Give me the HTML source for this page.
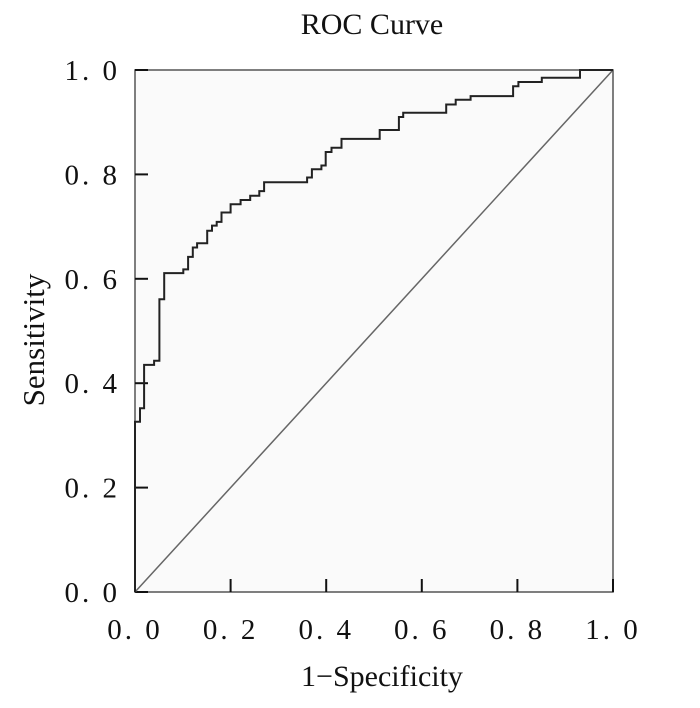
<!DOCTYPE html>
<html><head><meta charset="utf-8"><style>
body{margin:0;background:#fff;}
svg text{font-family:"Liberation Serif","Noto Serif CJK SC",serif;fill:#111;}
</style></head><body>
<svg width="700" height="703" id="chart">
<text x="372" y="34" font-size="30" text-anchor="middle">ROC Curve</text>
<rect x="135" y="70" width="478" height="522" fill="#fafafa" stroke="#555" stroke-width="1.5"/>
<g id="axes"></g>
<text x="382" y="686" font-size="30" text-anchor="middle">1−Specificity</text>
<text transform="translate(44,340) rotate(-90)" font-size="31" text-anchor="middle">Sensitivity</text>
</svg>
<script>
const fprValues=[0,0,0.0105,0.0105,0.019,0.019,0.040,0.040,0.051,0.051,0.061,0.061,0.101,0.101,0.111,0.111,0.121,0.121,0.130,0.130,0.151,0.151,0.161,0.161,0.171,0.171,0.181,0.181,0.200,0.200,0.221,0.221,0.241,0.241,0.260,0.260,0.270,0.270,0.360,0.360,0.370,0.370,0.390,0.390,0.399,0.399,0.411,0.411,0.432,0.432,0.512,0.512,0.552,0.552,0.561,0.561,0.651,0.651,0.671,0.671,0.702,0.702,0.791,0.791,0.802,0.802,0.851,0.851,0.931,0.931,1.0];
const tprValues=[0,0.326,0.326,0.352,0.352,0.435,0.435,0.443,0.443,0.561,0.561,0.611,0.611,0.618,0.618,0.642,0.642,0.660,0.660,0.668,0.668,0.692,0.692,0.702,0.702,0.709,0.709,0.727,0.727,0.743,0.743,0.751,0.751,0.759,0.759,0.768,0.768,0.785,0.785,0.794,0.794,0.810,0.810,0.817,0.817,0.843,0.843,0.851,0.851,0.868,0.868,0.885,0.885,0.910,0.910,0.918,0.918,0.934,0.934,0.943,0.943,0.950,0.950,0.969,0.969,0.977,0.977,0.985,0.985,1.0,1.0];
const xTicks=[0,0.2,0.4,0.6,0.8,1.0];
const yTicks=[0,0.2,0.4,0.6,0.8,1.0];
const xTickLabels=["0. 0","0. 2","0. 4","0. 6","0. 8","1. 0"];
const yTickLabels=["0. 0","0. 2","0. 4","0. 6","0. 8","1. 0"];
const X0=135,X1=613,Y0=592,Y1=70;
const sx=v=>X0+v*(X1-X0), sy=v=>Y0-v*(Y0-Y1);
const NS="http://www.w3.org/2000/svg";
const g=document.getElementById('axes');
function mk(tag,attrs){const e=document.createElementNS(NS,tag);for(const k in attrs)e.setAttribute(k,attrs[k]);g.appendChild(e);return e;}
xTicks.forEach((t,i)=>{
 const l=mk('line',{x1:sx(t),x2:sx(t),y1:Y0,y2:Y0-13,stroke:'#111','stroke-width':2});
 
 
 const tx=mk('text',{x:sx(t),y:639,'font-size':29,'letter-spacing':3,'text-anchor':'middle'});
 tx.textContent=xTickLabels[i];
 
 
});
yTicks.forEach((t,i)=>{
 const l=mk('line',{x1:X0,x2:X0+13,y1:sy(t),y2:sy(t),stroke:'#111','stroke-width':2});
 
 
 const tx=mk('text',{x:120,y:sy(t)+10,'font-size':29,'letter-spacing':3,'text-anchor':'end'});
 tx.textContent=yTickLabels[i];
 
 
});
const diag=mk('line',{x1:sx(0),y1:sy(0),x2:sx(1),y2:sy(1),stroke:'#666','stroke-width':1.5});


const pts=fprValues.map((f,i)=>sx(f).toFixed(1)+','+sy(tprValues[i]).toFixed(1)).join(' ');
const curve=mk('polyline',{points:pts,fill:'none',stroke:'#222','stroke-width':2});


</script>
</body></html>
